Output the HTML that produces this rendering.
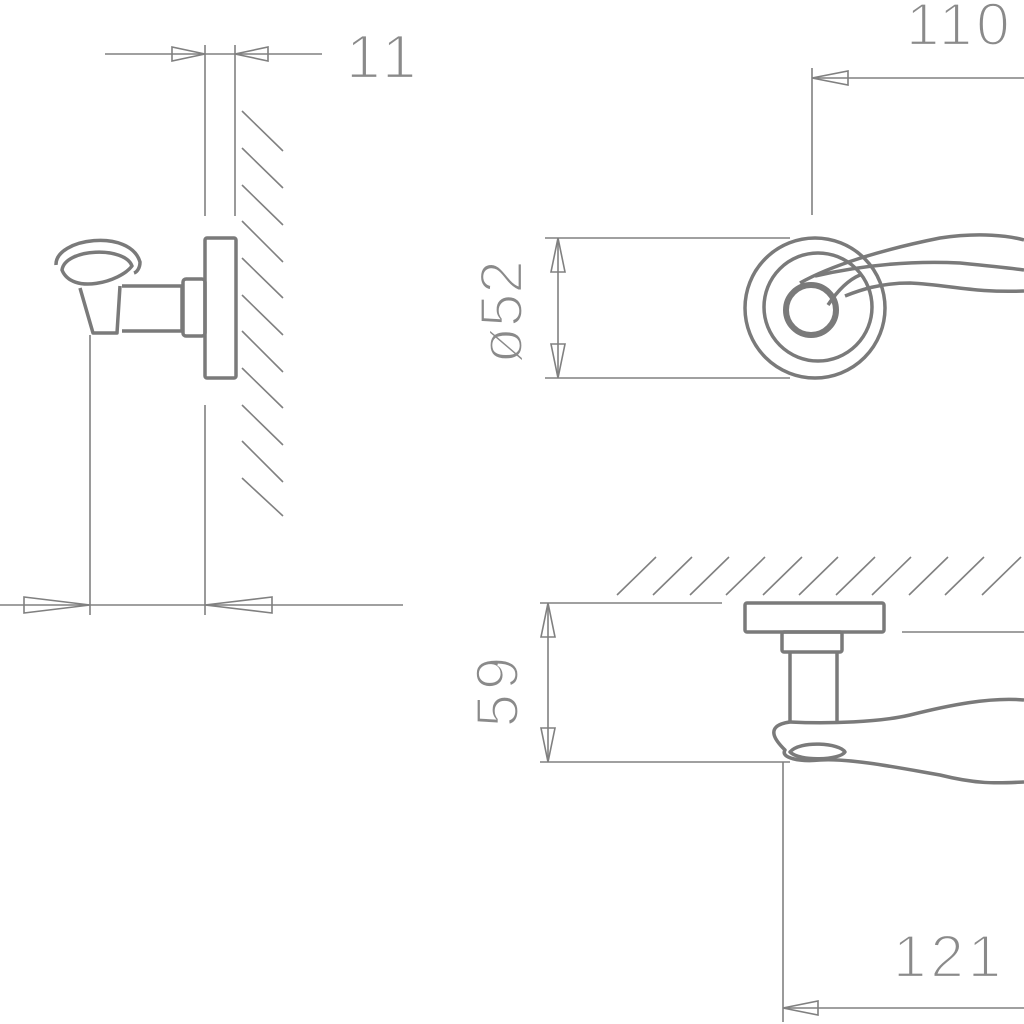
<!DOCTYPE html>
<html><head><style>html,body{margin:0;padding:0;background:#fff}svg{display:block}</style></head>
<body>
<svg width="1024" height="1024" viewBox="0 0 1024 1024" xmlns="http://www.w3.org/2000/svg">
<g stroke="#808080" stroke-width="1.6" fill="none">
<line x1="105" y1="54" x2="322" y2="54"/>
<line x1="205" y1="45" x2="205" y2="216"/>
<line x1="235" y1="45" x2="235" y2="216"/>
<line x1="205" y1="405" x2="205" y2="615"/>
<polygon points="172,47 172,61 205,54"/>
<polygon points="268,47 268,61 235,54"/>
<g>
<line x1="242" y1="111" x2="283" y2="151"/>
<line x1="242" y1="148" x2="283" y2="188"/>
<line x1="242" y1="185" x2="283" y2="225"/>
<line x1="242" y1="221" x2="283" y2="262"/>
<line x1="242" y1="258" x2="283" y2="298"/>
<line x1="242" y1="295" x2="283" y2="335"/>
<line x1="242" y1="331" x2="283" y2="372"/>
<line x1="242" y1="368" x2="283" y2="408"/>
<line x1="242" y1="405" x2="283" y2="445"/>
<line x1="242" y1="441" x2="283" y2="482"/>
<line x1="242" y1="478" x2="283" y2="516"/>
</g>
<line x1="0" y1="605" x2="403" y2="605"/>
<line x1="90" y1="335" x2="90" y2="615"/>
<polygon points="24,597 24,613 90,605"/>
<polygon points="272,597 272,613 205,605"/>
<line x1="812" y1="78" x2="1024" y2="78"/>
<line x1="812" y1="68" x2="812" y2="215"/>
<polygon points="848,71 848,85 812,78"/>
<line x1="545" y1="238" x2="790" y2="238"/>
<line x1="545" y1="378" x2="790" y2="378"/>
<line x1="558" y1="238" x2="558" y2="378"/>
<polygon points="551,272 565,272 558,238"/>
<polygon points="551,344 565,344 558,378"/>
<g>
<line x1="617" y1="595" x2="656" y2="557"/>
<line x1="653" y1="595" x2="692" y2="557"/>
<line x1="690" y1="595" x2="729" y2="557"/>
<line x1="726" y1="595" x2="765" y2="557"/>
<line x1="763" y1="595" x2="802" y2="557"/>
<line x1="799" y1="595" x2="838" y2="557"/>
<line x1="836" y1="595" x2="875" y2="557"/>
<line x1="872" y1="595" x2="911" y2="557"/>
<line x1="909" y1="595" x2="948" y2="557"/>
<line x1="945" y1="595" x2="984" y2="557"/>
<line x1="982" y1="595" x2="1021" y2="557"/>
</g>
<line x1="540" y1="603" x2="722" y2="603"/>
<line x1="902" y1="632" x2="1024" y2="632"/>
<line x1="540" y1="762" x2="790" y2="762"/>
<line x1="548" y1="603" x2="548" y2="762"/>
<polygon points="541,637 555,637 548,603"/>
<polygon points="541,728 555,728 548,762"/>
<line x1="783" y1="762" x2="783" y2="1022"/>
<line x1="783" y1="1008" x2="1024" y2="1008"/>
<polygon points="818,1001 818,1015 783,1008"/>
</g>

<g stroke="#7a7a7a" stroke-width="3.5" fill="none" stroke-linejoin="round">
<rect x="205" y="238" width="31" height="140" rx="2"/>
<rect x="183" y="279" width="22" height="57" rx="3"/>
<path d="M122,286 L182,286 L182,331 L122,331"/>
<path d="M80,288 L93,333 L117,333 L120,286"/>
<path d="M56,265 C55,238 130,228 140,262 C140,268 137,272 134,273"/>
<path d="M62,270 C65,248 125,246 132,266 C120,282 72,295 62,270 Z"/>
<circle cx="815" cy="308" r="70"/>
<circle cx="818" cy="307" r="54"/>
<circle cx="811" cy="310" r="25" stroke-width="6"/>
<path d="M800,283 C830,266 880,250 940,238 C980,232 1010,236 1024,240"/>
<path d="M815,276 C850,268 900,260 960,263 C990,266 1010,268 1024,270"/>
<path d="M845,296 C860,290 880,283 910,283 C950,285 975,293 1024,291"/>
<path d="M828,305 C838,290 848,280 860,275"/>
<rect x="745" y="603" width="139" height="29" rx="2"/>
<rect x="782" y="632" width="60" height="20" rx="2"/>
<path d="M790,652 L790,722 M837,652 L837,722"/>
<path d="M790,722 C760,726 780,745 785,750 C780,758 800,762 820,760 C850,758 900,768 940,775 C980,785 1000,783 1024,782"/>
<path d="M790,722 C830,724 880,722 910,715 C950,705 990,697 1024,700"/>
<path d="M790,752 C800,740 840,743 845,752 C840,760 800,762 790,752 Z"/>
</g>

<g fill="#8a8a8a" stroke="#fff" stroke-width="2.2" font-family="Liberation Sans, sans-serif">
<text x="346" y="78" font-size="62" letter-spacing="6">11</text>
<text x="906" y="45" font-size="60" letter-spacing="4">110</text>
<text x="893" y="977" font-size="60" letter-spacing="4">121</text>
<text transform="translate(522,312) rotate(-90)" text-anchor="middle" font-size="60">ø52</text>
<text transform="translate(518,690) rotate(-90)" text-anchor="middle" font-size="60" letter-spacing="4">59</text>
</g>
</svg>
</body></html>
